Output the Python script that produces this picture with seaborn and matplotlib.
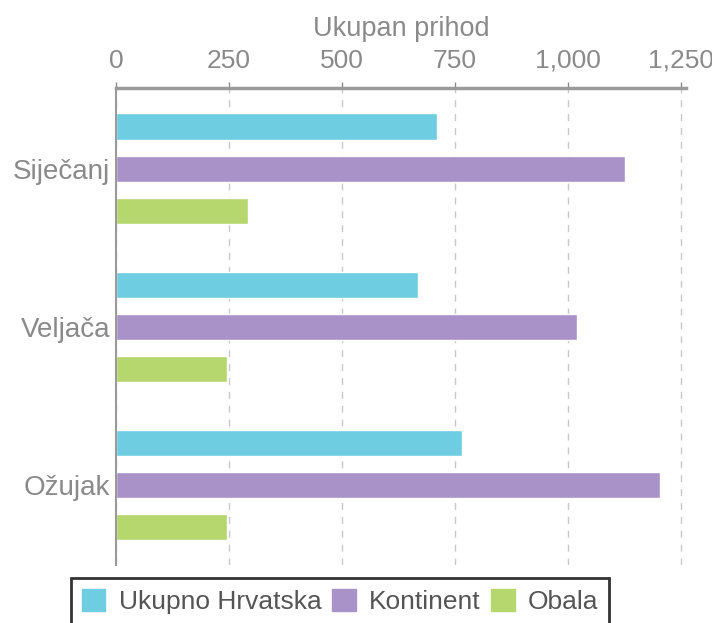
import pandas as pd
import numpy as np
import seaborn as sns
import matplotlib.pyplot as plt

months = ["Siječanj", "Veljača", "Ožujak"]
series = ["Ukupno Hrvatska", "Kontinent", "Obala"]
ukupno = [710, 668, 765]
kontinent = [1128, 1020, 1204]
obala = [292, 246, 246]

COLOR = {
    "Ukupno Hrvatska": "#6ecde0",
    "Kontinent": "#a992c8",
    "Obala": "#b5d76e",
}

df = pd.DataFrame({
    "Mjesec": months * 3,
    "Serija": [s for s in series for _ in months],
    "Prihod": ukupno + kontinent + obala,
})

sns.set_style("white")
plt.rcParams["font.family"] = ["Liberation Sans", "DejaVu Sans"]

fig = plt.figure(figsize=(7.12, 6.23), dpi=100)
ax = fig.add_axes([0.163, 0.093, 0.8005, 0.7657])

sns.barplot(data=df, y="Mjesec", x="Prihod", hue="Serija", order=months,
            hue_order=series, palette=COLOR, orient="h", width=0.8, gap=0.38,
            saturation=1, ax=ax, legend=False)

grey = "#8a8a8a"
ax.set_xlim(0, 1262)
ax.set_ylim(2.505, -0.51)
ax.set_xticks([0, 250, 500, 750, 1000, 1250])
ax.set_xticklabels(["0", "250", "500", "750", "1,000", "1,250"])
ax.xaxis.tick_top()
ax.xaxis.set_label_position("top")
ax.set_xlabel("Ukupan prihod", fontsize=19.5, color=grey, labelpad=9)
ax.set_ylabel("")
ax.tick_params(axis="x", colors=grey, labelsize=19, length=4, width=1, pad=7)
ax.tick_params(axis="y", colors=grey, labelsize=20, length=0, pad=4)
ax.grid(axis="x", linestyle=(0, (5, 5)), color="#c8c8c8", linewidth=1)
ax.set_axisbelow(True)

for side in ["right", "bottom"]:
    ax.spines[side].set_visible(False)
ax.spines["top"].set_color("#9a9a9a")
ax.spines["top"].set_linewidth(2.5)
ax.spines["left"].set_color("#9a9a9a")
ax.spines["left"].set_linewidth(1.5)

handles = [plt.Rectangle((0, 0), 1, 1, color=COLOR[s]) for s in series]
leg = fig.legend(handles, series, loc="upper center", bbox_to_anchor=(0.4775, 0.072),
                 ncol=3, fontsize=19, frameon=True, fancybox=False,
                 borderaxespad=0, handlelength=0.9, handleheight=0.9,
                 handletextpad=0.5, columnspacing=0.4, borderpad=0.4,
                 labelcolor="#555555")
leg.get_frame().set_edgecolor("black")
leg.get_frame().set_linewidth(2)

plt.savefig("out.png", dpi=100)
